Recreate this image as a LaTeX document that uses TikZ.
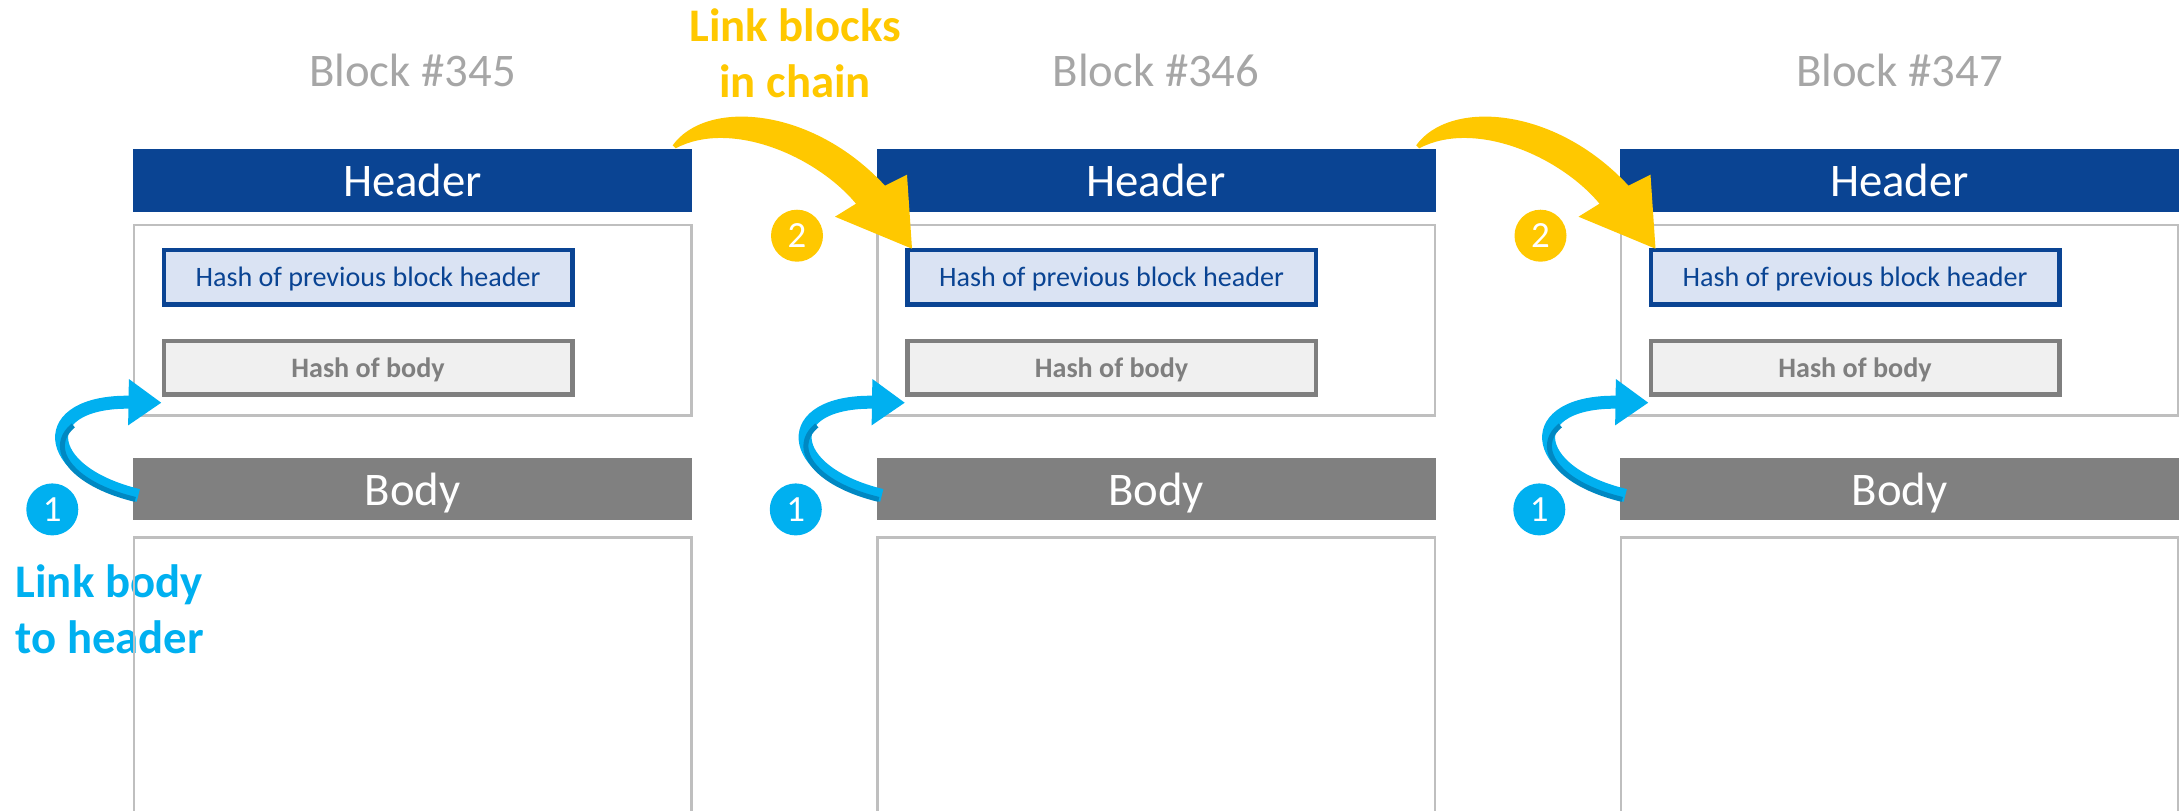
\documentclass[tikz,border=0pt]{standalone}
\usepackage{fontspec}
\setmainfont{Carlito}
\usepackage{tikz}
\usetikzlibrary{arrows.meta,calc,positioning}

\definecolor{headblue}{HTML}{0A4493}
\definecolor{prevfill}{HTML}{DAE3F3}
\definecolor{bodygray}{HTML}{808080}
\definecolor{hashgray}{HTML}{7F7F7F}
\definecolor{hashfill}{HTML}{F0F0F0}
\definecolor{framegray}{HTML}{BFBFBF}
\definecolor{titlegray}{HTML}{A6A6A6}
\definecolor{linkblue}{HTML}{00B0F0}
\definecolor{linkshade}{HTML}{0088C2}
\definecolor{chainyellow}{HTML}{FFC800}

\newcommand{\blockfont}{\fontsize{13.3}{16.2}\selectfont}
\newcommand{\hashfont}{\fontsize{8}{9.6}\selectfont}
\newcommand{\numfont}{\fontsize{10.5}{12}\selectfont}

\tikzset{
headbar/.style={
  fill=headblue,
  text=white,
  minimum width=5.59cm,
  minimum height=0.63cm,
  text depth=0pt,
  font=\blockfont,
  },
bodybar/.style={
  headbar,
  fill=bodygray,
  minimum height=0.62cm,
  }
}
\tikzset{
framebox/.style={
  draw=framegray,
  line width=0.025cm,
  inner sep=0pt,
  minimum width=5.575cm,
  },
prevhash/.style={
  draw=headblue,
  fill=prevfill,
  line width=0.045cm,
  inner sep=0pt,
  minimum width=4.085cm,
  minimum height=0.545cm,
  text depth=0pt,
  text=headblue,
  font=\hashfont,
  },
bodyhash/.style={
  prevhash,
  draw=hashgray,
  fill=hashfill,
  minimum height=0.535cm,
  text=hashgray,
  font=\hashfont\bfseries,
  }
}
\tikzset{
blocktitle/.style={
  text=titlegray,
  font=\blockfont,
  },
linklabel/.style={
  inner sep=0pt,
  font=\blockfont\bfseries,
  },
stepone/.style={
  circle,
  fill=linkblue,
  inner sep=0pt,
  minimum size=0.52cm,
  text=white,
  font=\numfont,
  },
steptwo/.style={
  stepone,
  fill=chainyellow,
  }
}
\tikzset{
bodylink/.style={
  draw=linkblue,
  line width=0.13cm,
  -{Triangle[length=3.3mm,width=4.4mm]}
  },
bodyshade/.style={
  draw=linkshade,
  line width=0.05cm,
  dash pattern=on 1.2cm off 20cm,
  },
chainlink/.style={
  fill=chainyellow,
  }
}

\begin{document}
\begin{tikzpicture}[scale=1.0]
    \useasboundingbox (0,0) rectangle (21.79,-8.11);

    % side labels
    \node[linklabel, text=linkblue, align=left, anchor=south west] (bodylbl) at (0.15,-6.55) {Link body\\to header};
    \node[linklabel, text=chainyellow, align=center, anchor=south] (chainlbl) at (7.95,-0.99) {Link blocks\\in chain};

    \foreach \i/\n in {0/345,1/346,2/347} {
    \begin{scope}[xshift=\i*7.435cm]
    % header part
    \node[headbar] (head\i) at (4.125,-1.805) {Header};
    \node[blocktitle, above=0.62cm of head\i, anchor=base] (title\i) {Block \#\n};
    \node[framebox, minimum height=1.905cm, below=0.11cm of head\i] (hbox\i) {};
    \node[prevhash, below right=0.24cm and 0.29cm of hbox\i.north west] (hp\i) {Hash of previous block header};
    \node[bodyhash, below=0.32cm of hp\i] (hb\i) {Hash of body};

    % body part
    \node[bodybar, below=0.41cm of hbox\i] (body\i) {Body};
    \node[framebox, minimum height=3cm, below=0.15cm of body\i] (bbox\i) {};

    % body to header link
    \node[stepone] (one\i) at ($(body\i.west)+(-0.80,-0.20)$) {1};
    \draw[bodylink] ([shift={(0.06,-0.06)}]body\i.west) .. controls +(-0.99,0.24) and +(-1.26,0.02) .. ([yshift=-0.06cm]hb\i.south west);
    \draw[bodyshade] ([shift={(0.03,-0.10)}]body\i.west) .. controls +(-0.99,0.24) and +(-1.26,0.02) .. ([shift={(-0.03,-0.10)}]hb\i.south west);
    \end{scope}
    }

    % chain links
    \foreach \i/\j in {0/1,1/2} {
    \node[steptwo] (two\j) at ($(hp\j.north west)+(-1.08,0.12)$) {2};
    \fill[chainlink] ([shift={(-0.20,0.03)}]head\i.north east) .. controls +(0.33,0.46) and +(-0.74,0.80) .. ([shift={(-0.20,0.62)}]hp\j.north west)
        -- ([shift={(0.02,0.73)}]hp\j.north west) -- ([shift={(0.07,-0.01)}]hp\j.north west)
        -- ([shift={(-0.70,0.31)}]hp\j.north west) -- ([shift={(-0.49,0.44)}]hp\j.north west)
        .. controls +(-0.40,0.48) and +(0.55,0.29) .. ([shift={(-0.17,0)}]head\i.north east) -- cycle;
    }
\end{tikzpicture}
\end{document}
